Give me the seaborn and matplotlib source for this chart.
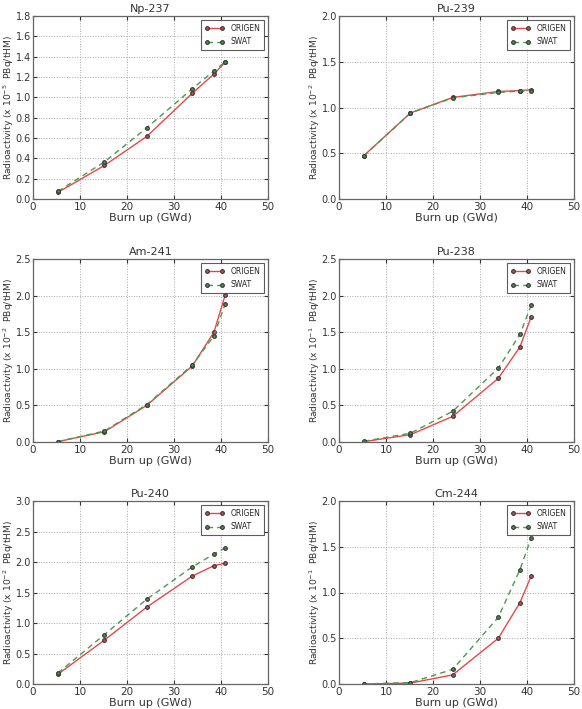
import numpy as np
import pandas as pd
import matplotlib
matplotlib.use("Agg")
import matplotlib.pyplot as plt
import seaborn as sns

# Burn up (GWd), shared by all panels
burnup = [5.3, 15.2, 24.2, 33.9, 38.5, 40.9]

nuclides = ["Np-237", "Pu-239", "Am-241", "Pu-238", "Pu-240", "Cm-244"]
exponents = [-5, -2, -2, -1, -2, -1]
ymax = [1.8, 2.0, 2.5, 2.5, 3.0, 2.0]
ystep = [0.2, 0.5, 0.5, 0.5, 0.5, 0.5]

origen = {
    "Np-237": [0.065, 0.33, 0.615, 1.04, 1.23, 1.345],
    "Pu-239": [0.475, 0.94, 1.11, 1.175, 1.185, 1.195],
    "Am-241": [0.005, 0.14, 0.50, 1.04, 1.50, 2.01],
    "Pu-238": [0.005, 0.10, 0.35, 0.87, 1.30, 1.71],
    "Pu-240": [0.16, 0.72, 1.26, 1.77, 1.94, 1.98],
    "Cm-244": [0.0, 0.01, 0.10, 0.50, 0.89, 1.18],
}
swat = {
    "Np-237": [0.075, 0.365, 0.70, 1.085, 1.26, 1.35],
    "Pu-239": [0.47, 0.94, 1.105, 1.165, 1.18, 1.18],
    "Am-241": [0.005, 0.15, 0.51, 1.05, 1.45, 1.89],
    "Pu-238": [0.01, 0.12, 0.42, 1.01, 1.47, 1.87],
    "Pu-240": [0.18, 0.81, 1.39, 1.92, 2.13, 2.23],
    "Cm-244": [0.0, 0.015, 0.16, 0.73, 1.25, 1.60],
}

sns.set_style("ticks")
plt.rcParams.update({
    "font.family": ["DejaVu Sans"],
    "font.size": 7.5,
    "axes.edgecolor": "#666666",
    "axes.linewidth": 0.9,
    "xtick.direction": "in",
    "ytick.direction": "in",
    "xtick.top": True,
    "ytick.right": True,
    "xtick.color": "#333333",
    "ytick.color": "#333333",
    "xtick.labelsize": 7.5,
    "ytick.labelsize": 7,
})

fig = plt.figure(figsize=(5.82, 7.09), dpi=100)
W, H = 582, 709
col_x = [33, 339]
row_top = [16, 259, 501]
aw, ah = 235, 183

colors = {"ORIGEN": "#e8474a", "SWAT": "#4a9a4a"}

for i, nuc in enumerate(nuclides):
    r, c = divmod(i, 2)
    ax = fig.add_axes([col_x[c] / W, 1 - (row_top[r] + ah) / H, aw / W, ah / H])
    df = pd.DataFrame({
        "burnup": burnup * 2,
        "value": origen[nuc] + swat[nuc],
        "code": ["ORIGEN"] * len(burnup) + ["SWAT"] * len(burnup),
    })
    sns.lineplot(data=df, x="burnup", y="value", hue="code", style="code",
                 palette=colors, dashes={"ORIGEN": "", "SWAT": (4, 3)},
                 markers={"ORIGEN": "o", "SWAT": "o"}, markersize=2.6,
                 markeredgecolor="#3a3a3a", markeredgewidth=0.9,
                 linewidth=1.0, ax=ax)
    ax.set_xlim(0, 50)
    ax.set_ylim(0, ymax[i])
    ax.set_xticks(np.arange(0, 51, 10))
    ax.set_yticks(np.arange(0, ymax[i] + 1e-9, ystep[i]))
    ax.yaxis.set_major_formatter(matplotlib.ticker.FormatStrFormatter("%.1f"))
    ax.grid(True, linestyle=":", color="#aaaaaa", linewidth=0.7)
    ax.set_title(nuc, fontsize=8, pad=3, color="#333333")
    ax.set_xlabel("Burn up (GWd)", fontsize=8, labelpad=1, color="#333333")
    ax.set_ylabel(r"Radioactivity (x 10$^{%d}$  PBq/tHM)" % exponents[i],
                  fontsize=6.6, color="#333333")
    ax.yaxis.set_label_coords(-0.072, 0.5)
    ax.tick_params(axis="x", length=3, pad=2)
    ax.tick_params(axis="y", length=3, pad=1.5)
    leg = ax.legend(loc="upper right", fontsize=5.5, frameon=True, fancybox=False,
                    handlelength=2.6, borderpad=0.5, labelspacing=0.6, numpoints=2)
    leg.get_frame().set_edgecolor("#333333")
    leg.get_frame().set_linewidth(0.8)

fig.savefig("out.png", dpi=100)
